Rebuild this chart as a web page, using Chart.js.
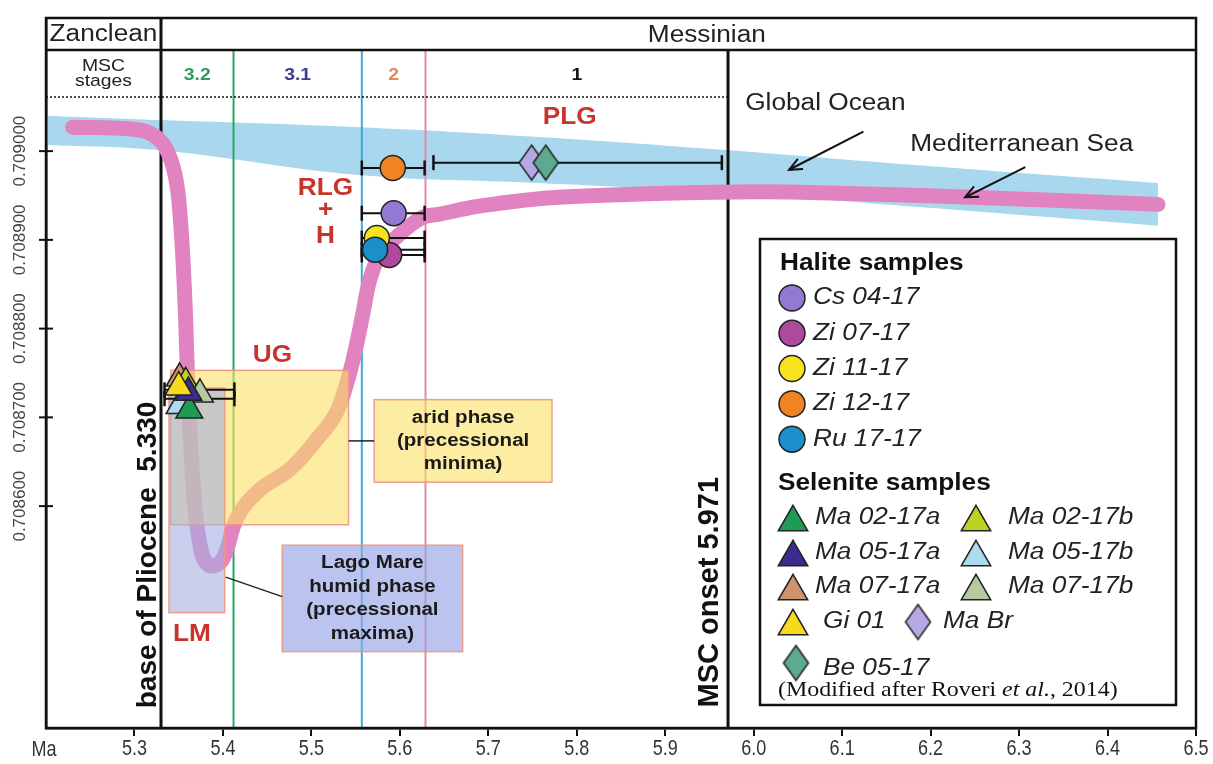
<!DOCTYPE html>
<html>
<head>
<meta charset="utf-8">
<script src="https://cdn.jsdelivr.net/npm/chart.js@4.4.1/dist/chart.umd.min.js"></script>
<style>
  html, body { margin: 0; padding: 0; background: #fff; }
  #wrap { width: 1213px; height: 764px; }
</style>
</head>
<body>
<div id="wrap"><canvas id="srChart" width="1213" height="764"></canvas></div>
<script>
// axes
const xTicks = [5.3, 5.4, 5.5, 5.6, 5.7, 5.8, 5.9, 6.0, 6.1, 6.2, 6.3, 6.4, 6.5];
const yTicks = [0.7086, 0.7087, 0.7088, 0.7089, 0.7090];

// MSC stage boundaries (Ma) and stage names
const stageBounds = [5.33, 5.412, 5.557, 5.629, 5.971];
const stageNames = ['3.2', '3.1', '2', '1'];

// global ocean envelope
const oceanAge = [5.202, 5.329, 5.554, 5.757, 5.972, 6.186, 6.457];
const oceanTop = [0.709040, 0.709035, 0.709027, 0.709016, 0.709001, 0.708984, 0.708964];
const oceanLow = [0.709007, 0.709001, 0.708973, 0.708964, 0.708953, 0.708937, 0.708916];

// Mediterranean Sea curve
const medAge = [5.230, 5.295, 5.320, 5.335, 5.346, 5.352, 5.357, 5.361, 5.366, 5.373, 5.383,
  5.399, 5.416, 5.441, 5.475, 5.506, 5.528, 5.541, 5.551, 5.559, 5.566, 5.577, 5.596,
  5.625, 5.645, 5.690, 5.780, 5.983, 6.119, 6.277, 6.457];
const medSr = [0.709027, 0.709025, 0.709019, 0.709004, 0.708973, 0.708922, 0.708832, 0.708720,
  0.708629, 0.708562, 0.708534, 0.708539, 0.708587, 0.708618, 0.708641, 0.708675, 0.708705,
  0.708742, 0.708782, 0.708821, 0.708855, 0.708882, 0.708903, 0.708925, 0.708929, 0.708938,
  0.708948, 0.708954, 0.708952, 0.708947, 0.708940];

// halite samples
const haliteNames = ['Cs 04-17', 'Zi 07-17', 'Zi 11-17', 'Zi 12-17', 'Ru 17-17'];
const haliteAge = [5.593, 5.588, 5.574, 5.592, 5.572];
const haliteSr = [0.708930, 0.708883, 0.708902, 0.708981, 0.708889];
const haliteAgeRange = [5.557, 5.628];

// selenite samples
const seleniteNames = ['Ma 02-17a', 'Ma 02-17b', 'Ma 05-17a', 'Ma 05-17b', 'Ma 07-17a', 'Ma 07-17b', 'Gi 01', 'Ma Br', 'Be 05-17'];
const seleniteAge = [5.362, 5.358, 5.361, 5.351, 5.351, 5.374, 5.350, 5.749, 5.765];
const seleniteSr = [0.708708, 0.708739, 0.708728, 0.708713, 0.708744, 0.708726, 0.708734, 0.708987, 0.708987];
const selAgeRange = [5.334, 5.413];
const selRangeSr = [0.708731, 0.708721];
const diamondAgeRange = [5.638, 5.964];
const diamondRangeSr = 0.708987;

// shaded phases [ageFrom, ageTo, srLow, srHigh]
const ugPhase = [5.341, 5.542, 0.708579, 0.708753];
const lmPhase = [5.339, 5.402, 0.708480, 0.708733];
const aridNote = [5.571, 5.772, 0.708627, 0.708720];
const humidNote = [5.467, 5.671, 0.708436, 0.708556];

// unit labels and where they sit (Ma, Sr)
const unitLabels = ['PLG', 'RLG', '+', 'H', 'UG', 'LM'];
const unitAge = [5.792, 5.516, 5.516, 5.516, 5.456, 5.365];
const unitSr = [0.709038, 0.708958, 0.708933, 0.708904, 0.708770, 0.708455];

// styles
const haliteColors = ['#9479d3', '#ad4a9e', '#f7e21e', '#f08420', '#1b8fca'];
const haliteLayer = [1.5, 1.6, 1.4, 1.5, 1.1];
const seleniteColors = ['#1f9b58', '#bcd321', '#3a2b8f', '#aedaf0', '#cd946b', '#b8c8a0', '#f7da1c', '#b6a8e6', '#5daa8e'];
const seleniteLayer = [1.3, 1.6, 1.2, 1.4, 1.7, 1.5, 1.1, 1.2, 1.1];
const stageColors = ['#2a9d5c', '#3b3b98', '#e8875a', '#111'];
const boundColors = ['#111', '#2aa85f', '#3fa9cf', '#e58aa6', '#111'];
const FONT = "'Liberation Sans', Arial, sans-serif";
const STRETCH = 1.14;

function diamondCanvas(fill, w, h) {
  const c = document.createElement('canvas');
  c.width = w + 4; c.height = h + 4;
  const g = c.getContext('2d');
  g.beginPath();
  g.moveTo(c.width / 2, 2);
  g.lineTo(c.width - 2, c.height / 2);
  g.lineTo(c.width / 2, c.height - 2);
  g.lineTo(2, c.height / 2);
  g.closePath();
  g.fillStyle = fill; g.fill();
  g.lineWidth = 1.5; g.strokeStyle = '#222'; g.stroke();
  return c;
}

function drawText(ctx, s, x, y, font, color, align, stretch, rot) {
  ctx.save();
  ctx.translate(x, y);
  if (rot) ctx.rotate(rot);
  ctx.scale(stretch || 1, 1);
  ctx.font = font;
  ctx.fillStyle = color;
  ctx.textAlign = align || 'center';
  ctx.textBaseline = 'middle';
  ctx.fillText(s, 0, 0);
  ctx.restore();
}

function arrow(ctx, x1, y1, x2, y2) {
  const a = Math.atan2(y2 - y1, x2 - x1), L = 14, s = 0.42;
  ctx.beginPath(); ctx.moveTo(x1, y1); ctx.lineTo(x2, y2); ctx.stroke();
  ctx.beginPath();
  ctx.moveTo(x2 - L * Math.cos(a - s), y2 - L * Math.sin(a - s));
  ctx.lineTo(x2, y2);
  ctx.lineTo(x2 - L * Math.cos(a + s), y2 - L * Math.sin(a + s));
  ctx.stroke();
}

// datasets
const datasets = [];
datasets.push({
  id: 'oceanTop', data: oceanAge.map((a, i) => ({ x: a, y: oceanTop[i] })),
  showLine: true, borderWidth: 0, borderColor: 'transparent', pointRadius: 0, tension: 0.4,
  fill: '+1', backgroundColor: '#a9d8ee', order: 9
});
datasets.push({
  id: 'oceanLow', data: oceanAge.map((a, i) => ({ x: a, y: oceanLow[i] })),
  showLine: true, borderWidth: 0, borderColor: 'transparent', pointRadius: 0, tension: 0.4,
  fill: false, order: 8
});
datasets.push({
  id: 'med', data: medAge.map((a, i) => ({ x: a, y: medSr[i] })),
  showLine: true, borderWidth: 15, borderColor: '#e283c1', pointRadius: 0, tension: 0.4,
  borderCapStyle: 'round', borderJoinStyle: 'round', fill: false, order: 5
});

function errBar(lo, hi, sr) {
  return {
    id: 'err', data: [{ x: lo, y: sr }, { x: hi, y: sr }],
    showLine: true, borderWidth: 2, borderColor: '#111', fill: false,
    pointStyle: 'line', pointRotation: 90, pointRadius: 7.5,
    pointBorderWidth: 2.5, pointBorderColor: '#111', order: 3
  };
}
haliteSr.forEach(sr => datasets.push(errBar(haliteAgeRange[0], haliteAgeRange[1], sr)));
selRangeSr.forEach(sr => datasets.push(errBar(selAgeRange[0], selAgeRange[1], sr)));
datasets.push(errBar(diamondAgeRange[0], diamondAgeRange[1], diamondRangeSr));

const legendItems = [];
haliteNames.forEach((name, i) => {
  datasets.push({
    id: 'halite', label: name, data: [{ x: haliteAge[i], y: haliteSr[i] }],
    pointStyle: 'circle', pointRadius: 12.5, pointBackgroundColor: haliteColors[i],
    pointBorderColor: '#222', pointBorderWidth: 1.5, order: haliteLayer[i]
  });
  legendItems.push({ name, shape: 'circle', color: haliteColors[i] });
});
const diamondImgs = {};
seleniteNames.forEach((name, i) => {
  const isDiamond = i >= 7;
  let style = 'triangle';
  if (isDiamond) {
    style = diamondCanvas(seleniteColors[i], 25, 35);
    diamondImgs[name] = style;
  }
  datasets.push({
    id: 'selenite', label: name, data: [{ x: seleniteAge[i], y: seleniteSr[i] }],
    pointStyle: style, pointRadius: isDiamond ? 14 : 15.5, pointBackgroundColor: seleniteColors[i],
    pointBorderColor: '#222', pointBorderWidth: 1.5, order: seleniteLayer[i]
  });
  legendItems.push({ name, shape: isDiamond ? 'diamond' : 'triangle', color: seleniteColors[i] });
});

function drawBounds(chart) {
  const { ctx, chartArea: ca, scales: { x } } = chart;
  const row1 = ca.top + 32;
  ctx.save();
  stageBounds.forEach((b, i) => {
    const px = x.getPixelForValue(b);
    ctx.beginPath();
    ctx.moveTo(px, i === 0 ? ca.top : row1);
    ctx.lineTo(px, ca.bottom);
    ctx.lineWidth = (i === 0 || i === 4) ? 3 : 2;
    ctx.strokeStyle = boundColors[i];
    ctx.stroke();
  });
  ctx.restore();
}

function boxPx(chart, b) {
  const { x, y } = chart.scales;
  const x1 = x.getPixelForValue(b[0]), x2 = x.getPixelForValue(b[1]);
  const y1 = y.getPixelForValue(b[3]), y2 = y.getPixelForValue(b[2]);
  return [x1, y1, x2 - x1, y2 - y1];
}

function drawPhases(chart) {
  const { ctx, scales: { x, y } } = chart;
  ctx.save();
  const edge = 'rgba(238,150,128,0.9)';
  const fillBox = (b, fill) => {
    const r = boxPx(chart, b);
    ctx.fillStyle = fill; ctx.fillRect(r[0], r[1], r[2], r[3]);
    ctx.lineWidth = 1.5; ctx.strokeStyle = edge; ctx.strokeRect(r[0], r[1], r[2], r[3]);
    return r;
  };
  const ug = fillBox(ugPhase, 'rgba(250,225,100,0.6)');
  const lm = fillBox(lmPhase, 'rgba(165,175,225,0.6)');
  const ar = fillBox(aridNote, 'rgba(250,225,100,0.6)');
  const hu = fillBox(humidNote, 'rgba(150,165,230,0.65)');

  // connectors
  ctx.strokeStyle = '#222'; ctx.lineWidth = 1.5;
  const cy = ar[1] + ar[3] / 2;
  ctx.beginPath(); ctx.moveTo(ug[0] + ug[2], cy); ctx.lineTo(ar[0], cy); ctx.stroke();
  ctx.beginPath();
  ctx.moveTo(lm[0] + lm[2] + 1, y.getPixelForValue(0.708520));
  ctx.lineTo(hu[0], y.getPixelForValue(0.708498));
  ctx.stroke();

  const f = "bold 18px " + FONT;
  ['arid phase', '(precessional', 'minima)'].forEach((s, i) =>
    drawText(ctx, s, ar[0] + ar[2] / 2, cy + (i - 1) * 23, f, '#1a1a1a', 'center', STRETCH));
  const hy = hu[1] + hu[3] / 2;
  ['Lago Mare', 'humid phase', '(precessional', 'maxima)'].forEach((s, i) =>
    drawText(ctx, s, hu[0] + hu[2] / 2, hy + (i - 1.5) * 23.5, f, '#1a1a1a', 'center', STRETCH));
  ctx.restore();
}

function drawNotes(chart) {
  const { ctx, scales: { x, y } } = chart;
  const X = v => x.getPixelForValue(v), Y = v => y.getPixelForValue(v);
  ctx.save();
  unitLabels.forEach((s, i) =>
    drawText(ctx, s, X(unitAge[i]), Y(unitSr[i]), "bold 23px " + FONT, '#c8342c', 'center', STRETCH));
  drawText(ctx, 'Global Ocean', X(6.081), Y(0.709054), "23px " + FONT, '#222', 'center', STRETCH);
  drawText(ctx, 'Mediterranean Sea', X(6.303), Y(0.709007), "23px " + FONT, '#222', 'center', STRETCH);
  ctx.strokeStyle = '#111'; ctx.lineWidth = 2;
  arrow(ctx, X(6.124), Y(0.709022), X(6.040), Y(0.708979));
  arrow(ctx, X(6.307), Y(0.708982), X(6.239), Y(0.708948));
  drawText(ctx, 'base of Pliocene  5.330', X(5.316), Y(0.708545), "bold 28px " + FONT, '#111', 'center', 1, -Math.PI / 2);
  drawText(ctx, 'MSC onset 5.971', X(5.951), Y(0.708503), "bold 29px " + FONT, '#111', 'center', 1, -Math.PI / 2);
  ctx.restore();
}

function drawFrame(chart) {
  const { ctx, chartArea: ca, scales: { x, y } } = chart;
  const row1 = ca.top + 32, row2 = ca.top + 79;
  ctx.save();
  ctx.strokeStyle = '#111'; ctx.lineWidth = 2.5;
  ctx.strokeRect(ca.left, ca.top, ca.right - ca.left, ca.bottom - ca.top);
  ctx.beginPath(); ctx.moveTo(ca.left, row1); ctx.lineTo(ca.right, row1); ctx.stroke();
  ctx.lineWidth = 1.6; ctx.setLineDash([2, 2]);
  ctx.beginPath(); ctx.moveTo(ca.left, row2); ctx.lineTo(x.getPixelForValue(stageBounds[4]), row2); ctx.stroke();
  ctx.setLineDash([]);

  const b0 = x.getPixelForValue(stageBounds[0]);
  drawText(ctx, 'Zanclean', (ca.left + b0) / 2, ca.top + 17, "23px " + FONT, '#222', 'center', STRETCH);
  drawText(ctx, 'Messinian', x.getPixelForValue(5.947), ca.top + 18, "23px " + FONT, '#222', 'center', STRETCH);
  drawText(ctx, 'MSC', (ca.left + b0) / 2, ca.top + 48, "17px " + FONT, '#222', 'center', STRETCH);
  drawText(ctx, 'stages', (ca.left + b0) / 2, ca.top + 63, "17px " + FONT, '#222', 'center', STRETCH);
  stageNames.forEach((s, i) => {
    const mid = (x.getPixelForValue(stageBounds[i]) + x.getPixelForValue(stageBounds[i + 1])) / 2;
    drawText(ctx, s, mid, ca.top + 57, "bold 17px " + FONT, stageColors[i], 'center', STRETCH);
  });

  // y axis ticks and labels
  ctx.lineWidth = 2; ctx.strokeStyle = '#111';
  yTicks.forEach(v => {
    const py = y.getPixelForValue(v);
    ctx.beginPath(); ctx.moveTo(ca.left - 7, py); ctx.lineTo(ca.left + 7, py); ctx.stroke();
    drawText(ctx, v.toFixed(6), 20, py, "17px " + FONT, '#444', 'center', 1, -Math.PI / 2);
  });
  // x tick labels, narrow and tall like the original
  xTicks.forEach(v => {
    drawText(ctx, v.toFixed(1), x.getPixelForValue(v), ca.bottom + 21, "22px " + FONT, '#333', 'center', 0.82);
  });
  drawText(ctx, 'Ma', ca.left - 2, ca.bottom + 22, "22px " + FONT, '#333', 'center', 0.82);
  ctx.restore();
}

function drawLegend(chart) {
  const ctx = chart.ctx;
  ctx.save();
  ctx.fillStyle = '#fff';
  ctx.fillRect(760, 239, 416, 466);
  ctx.strokeStyle = '#111'; ctx.lineWidth = 2.5;
  ctx.strokeRect(760, 239, 416, 466);

  const head = "bold 23px " + FONT, item = "italic 23px " + FONT;
  const mark = (it, cx, cy) => {
    ctx.save();
    if (it.shape === 'diamond') {
      const img = diamondImgs[it.name];
      ctx.drawImage(img, cx - img.width / 2, cy - img.height / 2);
      ctx.restore();
      return;
    }
    ctx.beginPath();
    if (it.shape === 'circle') {
      ctx.arc(cx, cy, 13, 0, Math.PI * 2);
    } else {
      const r = 17, w = r * Math.sqrt(3);
      const c = cy + r / 4;
      ctx.moveTo(cx, c - r); ctx.lineTo(cx + w / 2, c + r / 2); ctx.lineTo(cx - w / 2, c + r / 2);
      ctx.closePath();
    }
    ctx.fillStyle = it.color; ctx.fill();
    ctx.lineWidth = 1.5; ctx.strokeStyle = '#222'; ctx.stroke();
    ctx.restore();
  };

  drawText(ctx, 'Halite samples', 780, 264, head, '#111', 'left', STRETCH);
  legendItems.slice(0, 5).forEach((it, i) => {
    const cy = 298 + i * 35.3;
    mark(it, 792, cy);
    drawText(ctx, it.name, 813, cy, item, '#222', 'left', STRETCH);
  });
  drawText(ctx, 'Selenite samples', 778, 484, head, '#111', 'left', STRETCH);
  const sel = legendItems.slice(5);
  const rows = [518, 553, 587, 622];
  for (let r = 0; r < 3; r++) {
    const a = sel[r * 2], b = sel[r * 2 + 1];
    mark(a, 793, rows[r]); drawText(ctx, a.name, 815, rows[r], item, '#222', 'left', STRETCH);
    mark(b, 976, rows[r]); drawText(ctx, b.name, 1008, rows[r], item, '#222', 'left', STRETCH);
  }
  mark(sel[6], 793, rows[3]); drawText(ctx, sel[6].name, 823, rows[3], item, '#222', 'left', STRETCH);
  mark(sel[7], 918, rows[3]); drawText(ctx, sel[7].name, 943, rows[3], item, '#222', 'left', STRETCH);
  mark(sel[8], 796, 663); drawText(ctx, sel[8].name, 823, 669, item, '#222', 'left', STRETCH);

  // source note, "et al." in italics
  ctx.save();
  ctx.translate(778, 690);
  ctx.scale(STRETCH, 1);
  ctx.textBaseline = 'middle'; ctx.fillStyle = '#111'; ctx.textAlign = 'left';
  const parts = [['(Modified after Roveri ', ''], ['et al.', 'italic '], [', 2014)', '']];
  let px = 0;
  parts.forEach(p => {
    ctx.font = p[1] + "21px 'Liberation Serif', 'Times New Roman', serif";
    ctx.fillText(p[0], px, 0);
    px += ctx.measureText(p[0]).width;
  });
  ctx.restore();
  ctx.restore();
}

const decor = {
  id: 'decor',
  afterDatasetDraw(chart, args) {
    const ds = chart.data.datasets[args.index];
    if (ds.id === 'oceanLow') drawBounds(chart);
    if (ds.id === 'med') drawPhases(chart);
  },
  afterDatasetsDraw(chart) { drawNotes(chart); },
  afterDraw(chart) { drawFrame(chart); drawLegend(chart); }
};

Chart.defaults.font.family = FONT;

new Chart(document.getElementById('srChart').getContext('2d'), {
  type: 'scatter',
  data: { datasets },
  options: {
    responsive: false,
    animation: false,
    layout: { padding: { top: 18, right: 15, left: 0, bottom: 0 } },
    plugins: { legend: { display: false }, tooltip: { enabled: false } },
    scales: {
      x: {
        type: 'linear', min: 5.2, max: 6.5,
        afterBuildTicks: s => { s.ticks = xTicks.map(v => ({ value: v })); },
        afterFit: s => { s.height = 36; },
        grid: { drawOnChartArea: false, tickLength: 8, color: '#111', lineWidth: 2 },
        border: { color: '#111', width: 2.5 },
        ticks: { display: false, autoSkip: false, maxRotation: 0 }
      },
      y: {
        type: 'linear', min: 0.70835, max: 0.70915,
        afterBuildTicks: s => { s.ticks = yTicks.map(v => ({ value: v })); },
        afterFit: s => { s.width = 46; },
        grid: { display: false },
        border: { color: '#111', width: 2.5 },
        ticks: { display: false }
      }
    }
  },
  plugins: [decor]
});
</script>
</body>
</html>
